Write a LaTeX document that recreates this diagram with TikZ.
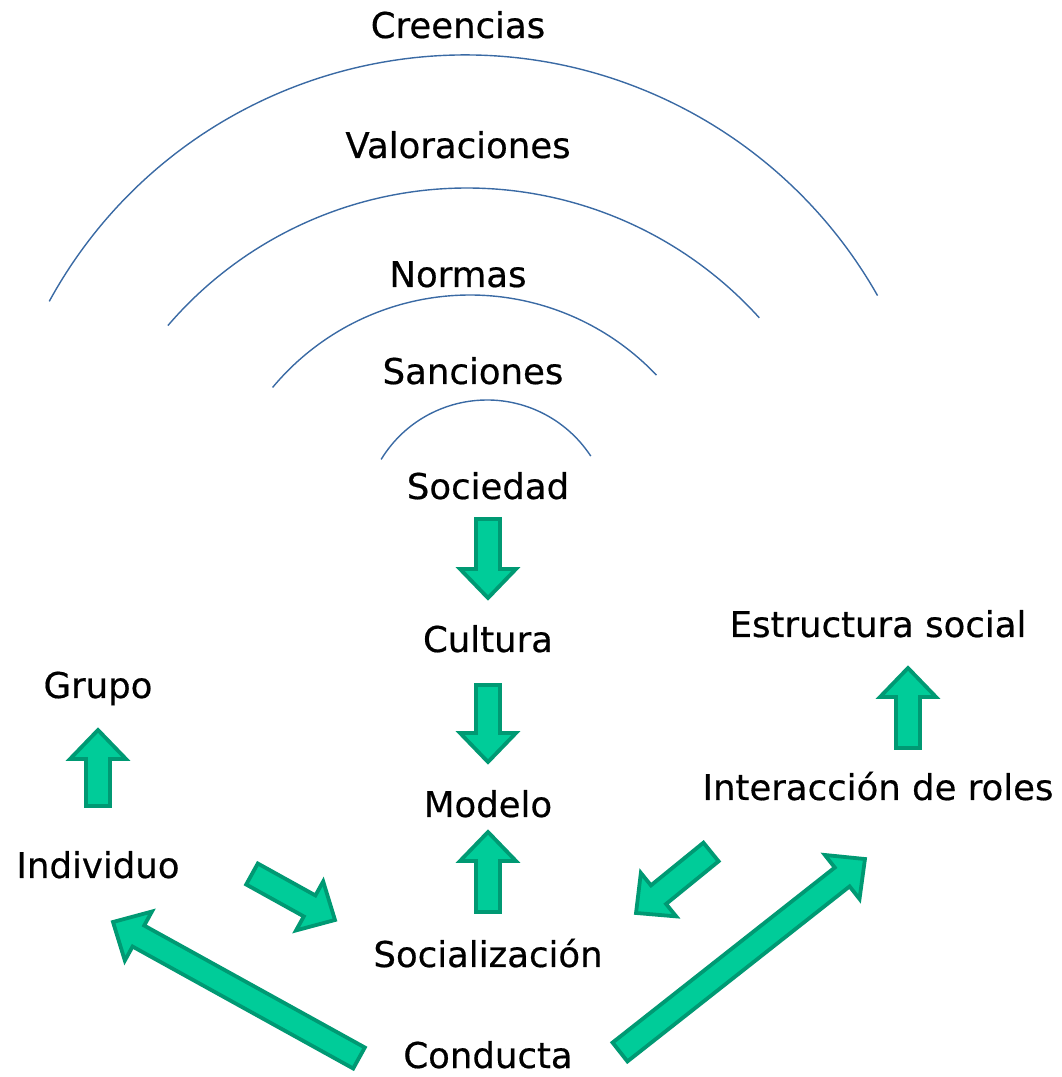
\documentclass[tikz,border=0pt]{standalone}
\usepackage{fontspec}
\setmainfont[FakeBold=0.5]{DejaVu Sans}
\usepackage{xcolor}
\usetikzlibrary{calc}

\definecolor{verde}{RGB}{0,204,153}
\definecolor{verdeosc}{RGB}{0,153,115}
\definecolor{azularco}{RGB}{58,106,164}

% half shaft, half head, head length
\newcommand{\fw}{12}
\newcommand{\fW}{28}
\newcommand{\fh}{29}
\newcommand{\flecha}[2]{%
  \path let \p1=(#1), \p2=(#2) in \pgfextra{%
    \pgfmathsetmacro\tmpang{atan2(\y2-\y1,\x2-\x1)}\xdef\fang{\tmpang}%
    \pgfmathsetmacro\tmplon{veclen(\x2-\x1,\y2-\y1)}\xdef\flon{\tmplon}};
  \draw[bloque,shift={(#1)},rotate=\fang] (0,\fw) -- ({\flon-\fh},\fw) -- ({\flon-\fh},\fW)
    -- (\flon,0) -- ({\flon-\fh},-\fW) -- ({\flon-\fh},-\fw) -- (0,-\fw) -- cycle;}

\begin{document}
\begin{tikzpicture}[x=1pt,y=1pt]
\useasboundingbox (0,0) rectangle (1061,1077);
%%%%%%%%%%%%%%%%%%%%%%%%%%%%%%%%%%%%%%%%%%%%%%%%%%%%%%%%%%%%%%
%styles
\tikzstyle{texto}=[anchor=base,inner sep=0pt,font=\fontsize{35.5}{42}\selectfont]
\tikzstyle{arco}=[draw=azularco,line width=1.4pt]
\tikzstyle{bloque}=[draw=verdeosc,fill=verde,line width=3.8pt]

%%%%%%%%%%%%%%%%%%%%%%%%%%%%%%%%%%%%%%%%%%%%%%%%%%%%%%%%%%%%%%
%ARCS
\draw[arco] (465,548) ++(151.3:474) arc[start angle=151.3,end angle=29.5,radius=474];
\draw[arco] (467,495) ++(139.4:394) arc[start angle=139.4,end angle=42.1,radius=394];
\draw[arco] (470,525) ++(140.2:257) arc[start angle=140.2,end angle=43.5,radius=257];
\draw[arco] (487,553) ++(148.6:124) arc[start angle=148.6,end angle=33.2,radius=124];

%%%%%%%%%%%%%%%%%%%%%%%%%%%%%%%%%%%%%%%%%%%%%%%%%%%%%%%%%%%%%%
%texts
%top
\node[texto] (creencias) at (458,1039) {Creencias};
\node[texto] (valoraciones) at (458,919) {Valoraciones};
\node[texto] (normas) at (458,790) {Normas};
\node[texto] (sanciones) at (473,693) {Sanciones};
%middle
\node[texto] (sociedad) at (488,578) {Sociedad};
\node[texto] (cultura) at (488,425) {Cultura};
\node[texto] (modelo) at (488,260) {Modelo};
\node[texto] (socializacion) at (488,110) {Socialización};
\node[texto] (conducta) at (488,9) {Conducta};
%left
\node[texto] (grupo) at (98,379) {Grupo};
\node[texto] (individuo) at (98,199) {Individuo};
%right
\node[texto] (estructura) at (878,440) {Estructura social};
\node[texto] (interaccion) at (878,277) {Interacción de roles};

%%%%%%%%%%%%%%%%%%%%%%%%%%%%%%%%%%%%%%%%%%%%%%%%%%%%%%%%%%%%%%
%ARROWS
%middle
\flecha{$(sociedad.base)+(0,-20)$}{$(cultura.base)+(0,54)$}
\flecha{$(cultura.base)+(0,-33)$}{$(modelo.base)+(0,55)$}
\flecha{$(socializacion.base)+(0,55)$}{$(modelo.base)+(0,-15)$}
%left
\flecha{$(individuo.base)+(0,72)$}{$(grupo.base)+(0,-32)$}
\flecha{$(individuo.base)+(154,4)$}{$(socializacion.base)+(-153,47)$}
%right
\flecha{$(interaccion.base)+(30,52)$}{$(estructura.base)+(30,-31)$}
\flecha{$(interaccion.base)+(-167,-52)$}{$(socializacion.base)+(148,54)$}
%conducta
\flecha{$(conducta.base)+(132,16)$}{$(interaccion.base)+(-13,-59)$}
\flecha{$(conducta.base)+(-129,10)$}{$(individuo.base)+(15,-44)$}
\end{tikzpicture}
\end{document}
